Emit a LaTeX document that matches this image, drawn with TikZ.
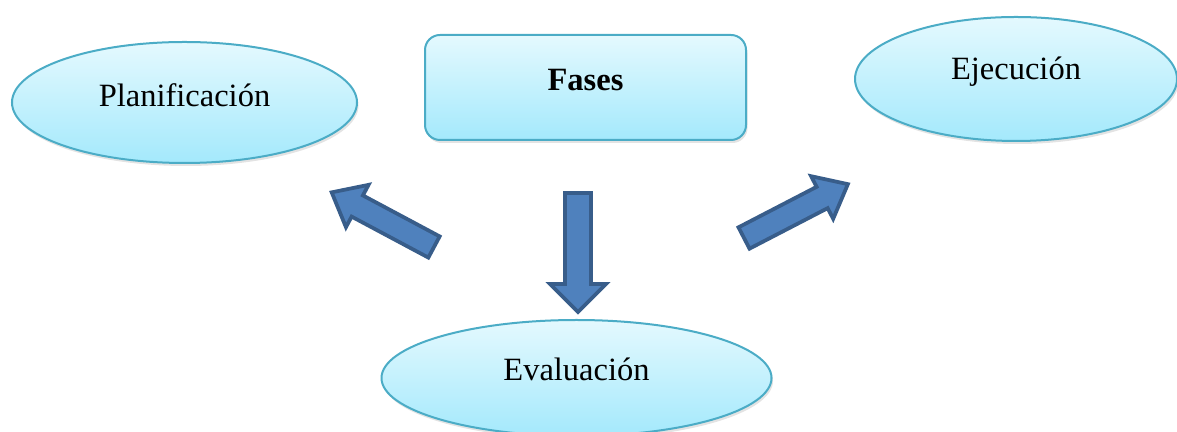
\documentclass[tikz,border=0pt]{standalone}
\usepackage{fontspec}
\setmainfont{Liberation Serif}
\usetikzlibrary{shapes.geometric,shadows}

\definecolor{cyantop}{RGB}{228,249,254}
\definecolor{cyanbot}{RGB}{164,233,252}
\definecolor{cyanedge}{RGB}{75,172,198}
\definecolor{arrowfill}{RGB}{79,129,189}
\definecolor{arrowedge}{RGB}{56,93,138}

\tikzset{
  phase/.style={draw=cyanedge, line width=0.8pt, top color=cyantop, bottom color=cyanbot,
    inner sep=0pt, drop shadow={opacity=0.22, shadow xshift=0.6pt, shadow yshift=-1.2pt}},
  oval/.style={phase, ellipse},
  box/.style={phase, rectangle, rounded corners=6pt},
  lbl/.style={font=\fontsize{13}{15}\selectfont, inner sep=0pt},
  blockarrow/.style={draw=arrowedge, fill=arrowfill, line width=1.5pt, line join=miter}
}

% block arrow: tail point, direction angle, length, shaft half-width, head half-width, head length
\newcommand\fatarrow[6]{%
  \begin{scope}[shift={#1}, rotate=#2]
    \draw[blockarrow] (0,-#4) -- ({#3-#6},-#4) -- ({#3-#6},-#5) -- (#3,0)
      -- ({#3-#6},#5) -- ({#3-#6},#4) -- (0,#4) -- cycle;
  \end{scope}}

\begin{document}
\begin{tikzpicture}[x=0.4pt, y=0.4pt]
  \useasboundingbox (0,0) rectangle (1177,432);
  \begin{scope}
    \clip (0,0) rectangle (1177,432);

    % the three phases and the title box
    \node[oval, minimum width=138pt, minimum height=48.4pt] (plan) at (184.5,329.5) {};
    \node[box, minimum width=128.4pt, minimum height=42pt] (fases) at (585.5,344.5) {};
    \node[oval, minimum width=128.8pt, minimum height=49.6pt] (ejec) at (1016,353) {};
    \node[oval, minimum width=156pt, minimum height=46.4pt] (eval) at (576.5,54) {};

    \node[lbl] at ([yshift=2.8pt]plan.center) {Planificación};
    \node[lbl] at ([yshift=2.8pt]fases.center) {\textbf{Fases}};
    \node[lbl] at ([yshift=2.8pt]ejec.center) {Ejecución};
    \node[lbl] at ([yshift=3.6pt]eval.center) {Evaluación};

    % arrows between the phases
    \fatarrow{(434,185)}{151.9}{116}{12}{24}{29}
    \fatarrow{(578,239)}{-90}{119}{13}{28}{28}
    \fatarrow{(744,194)}{27.4}{117}{12}{24}{29}
  \end{scope}
\end{tikzpicture}
\end{document}
